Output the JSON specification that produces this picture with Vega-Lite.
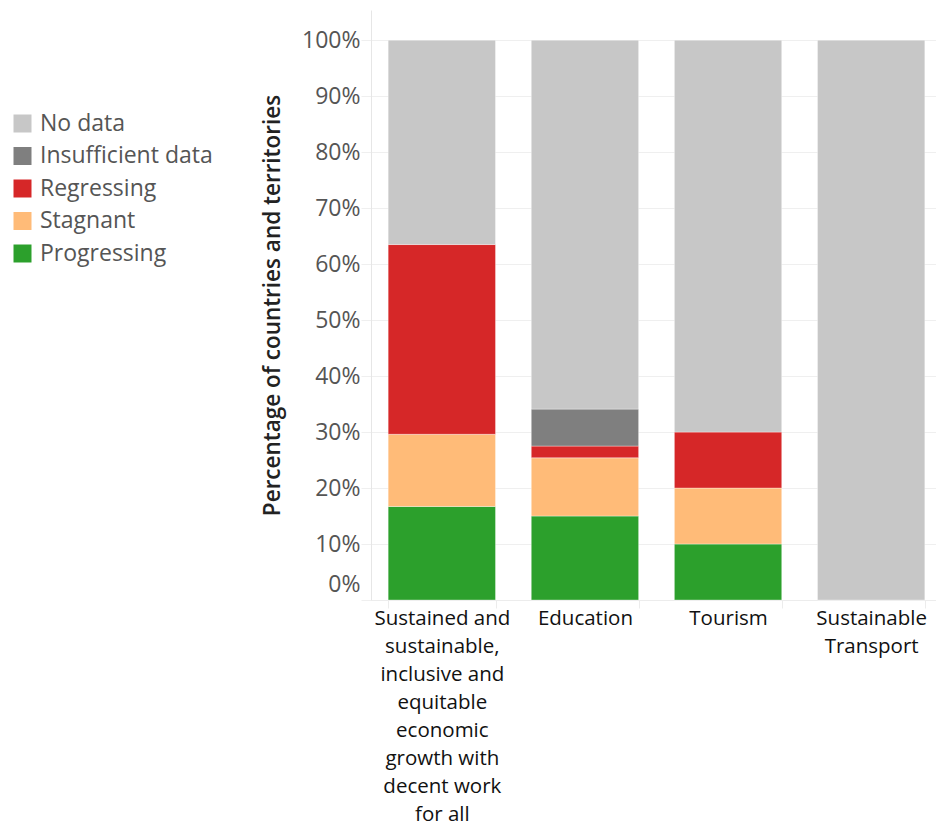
{
  "$schema": "https://vega.github.io/schema/vega-lite/v6.json",
  "width": 565,
  "height": 590,
  "autosize": {"type": "none"},
  "padding": {"left": 371, "top": 10, "right": 0, "bottom": 225},
  "background": "white",
  "config": {"view": {"stroke": null}, "font": "Open Sans"},
  "data": {
    "values": [
      {"goal": "Sustained and sustainable, inclusive and equitable economic growth with decent work for all", "status": "Progressing", "pct": 16.7},
      {"goal": "Sustained and sustainable, inclusive and equitable economic growth with decent work for all", "status": "Stagnant", "pct": 12.9},
      {"goal": "Sustained and sustainable, inclusive and equitable economic growth with decent work for all", "status": "Regressing", "pct": 33.9},
      {"goal": "Sustained and sustainable, inclusive and equitable economic growth with decent work for all", "status": "No data", "pct": 36.5},
      {"goal": "Education", "status": "Progressing", "pct": 15.0},
      {"goal": "Education", "status": "Stagnant", "pct": 10.4},
      {"goal": "Education", "status": "Regressing", "pct": 2.1},
      {"goal": "Education", "status": "Insufficient data", "pct": 6.6},
      {"goal": "Education", "status": "No data", "pct": 65.9},
      {"goal": "Tourism", "status": "Progressing", "pct": 10.0},
      {"goal": "Tourism", "status": "Stagnant", "pct": 10.0},
      {"goal": "Tourism", "status": "Regressing", "pct": 10.0},
      {"goal": "Tourism", "status": "No data", "pct": 70.0},
      {"goal": "Sustainable Transport", "status": "No data", "pct": 100.0}
    ]
  },
  "transform": [
    {"calculate": "indexof(['Progressing', 'Stagnant', 'Regressing', 'Insufficient data', 'No data'], datum.status)", "as": "stackOrder"}
  ],
  "mark": {"type": "bar", "stroke": "#ffffff", "strokeWidth": 1, "strokeOpacity": 0.35},
  "encoding": {
    "x": {
      "field": "goal",
      "type": "nominal",
      "sort": ["Sustained and sustainable, inclusive and equitable economic growth with decent work for all", "Education", "Tourism", "Sustainable Transport"],
      "scale": {"paddingInner": 0.25, "paddingOuter": 0.12, "range": [0, 571]},
      "axis": {
        "title": null,
        "labelAngle": 0,
        "labelFontSize": 20.5,
        "labelColor": "#111111",
        "labelLineHeight": 28,
        "labelPadding": 0,
        "labelLimit": 400,
        "labelBaseline": "top",
        "domainColor": "#ececec",
        "tickColor": "#ececec",
        "tickSize": 8,
        "tickBand": "extent",
        "labelExpr": "datum.value == 'Sustainable Transport' ? ['Sustainable', 'Transport'] : datum.value == 'Sustained and sustainable, inclusive and equitable economic growth with decent work for all' ? ['Sustained and', 'sustainable,', 'inclusive and', 'equitable', 'economic', 'growth with', 'decent work', 'for all'] : datum.label"
      }
    },
    "y": {
      "field": "pct",
      "type": "quantitative",
      "stack": "zero",
      "scale": {"domain": [0, 105.4], "nice": false},
      "axis": {
        "title": "Percentage of countries and territories",
        "values": [0, 10, 20, 30, 40, 50, 60, 70, 80, 90, 100],
        "labelExpr": "datum.value + '%'",
        "labelFontSize": 23,
        "labelColor": "#555555",
        "grid": true,
        "gridColor": "#efefef",
        "tickColor": "#efefef",
        "tickSize": 10,
        "domainColor": "#e6e6e6",
        "labelPadding": 1,
        "labelOffset": {"condition": {"test": "datum.value == 0", "value": -16}, "value": 0},
        "titleFontSize": 22.5,
        "titleFontWeight": 600,
        "titleColor": "#222222",
        "titlePadding": 17
      }
    },
    "order": {"field": "stackOrder", "type": "quantitative", "sort": "ascending"},
    "color": {
      "field": "status",
      "type": "nominal",
      "sort": ["No data", "Insufficient data", "Regressing", "Stagnant", "Progressing"],
      "scale": {
        "domain": ["No data", "Insufficient data", "Regressing", "Stagnant", "Progressing"],
        "range": ["#c7c7c7", "#7f7f7f", "#d62728", "#ffbb78", "#2ca02c"]
      },
      "legend": {
        "title": null,
        "orient": "none",
        "legendX": -360,
        "legendY": 102,
        "padding": 0,
        "symbolType": "square",
        "symbolSize": 324,
        "symbolStrokeWidth": 0,
        "labelFontSize": 23,
        "labelLimit": 400,
        "labelColor": "#555555",
        "labelOffset": 6,
        "rowPadding": 8.5
      }
    }
  }
}
